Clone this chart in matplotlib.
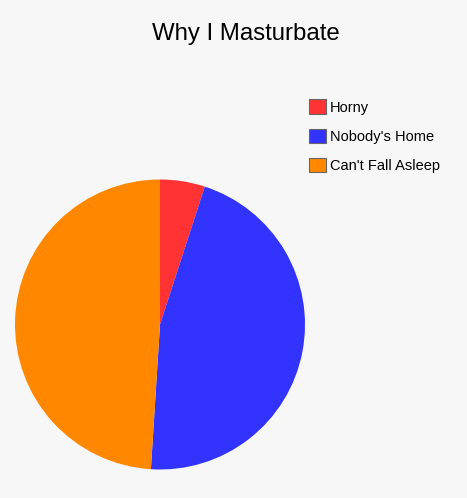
import matplotlib
matplotlib.use('Agg')
import matplotlib.pyplot as plt
from matplotlib.patches import Patch

# data
labels = ["Horny", "Nobody's Home", "Can't Fall Asleep"]
shares = [5, 46, 49]
colors = ["#ff3333", "#3333ff", "#ff8800"]

plt.rcParams['font.family'] = ['Liberation Sans', 'DejaVu Sans']

W, H = 467, 498
fig = plt.figure(figsize=(W / 100, H / 100), dpi=100)
fig.patch.set_facecolor("#f7f7f7")

# pie centred at (160, 324) px with radius 145 px
cx, cy, r = 160, 324.5, 145
ax = fig.add_axes([(cx - r) / W, (H - cy - r) / H, 2 * r / W, 2 * r / H])
ax.pie(shares, colors=colors, startangle=90, counterclock=False,
       wedgeprops=dict(linewidth=0))
ax.set_xlim(-1, 1)
ax.set_ylim(-1, 1)
ax.set_facecolor("none")

fig.text(245.5 / W, 1 - 40 / H, "Why I Masturbate", ha='center', va='baseline',
         fontsize=17.3, color='black')

handles = [Patch(facecolor=c, edgecolor="#666666", linewidth=0.8) for c in colors]
fig.legend(handles, labels, loc='upper left',
           bbox_to_anchor=(309 / W, 1 - 99.5 / H), frameon=False,
           fontsize=10.5, handlelength=1.15, handleheight=1.15,
           labelspacing=0.95, handletextpad=0.3, borderaxespad=0, borderpad=0)

fig.savefig("out.png", dpi=100, facecolor=fig.get_facecolor())
